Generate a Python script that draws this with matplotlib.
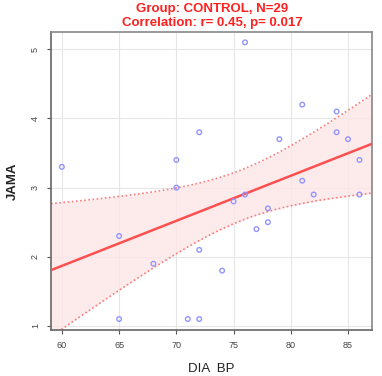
import numpy as np
import matplotlib
matplotlib.use('Agg')
import matplotlib.pyplot as plt

plt.rcParams['font.family'] = ['Liberation Sans', 'DejaVu Sans']

# DIA BP vs JAMA, control group
dia_bp = [60, 65, 65, 68, 70, 70, 71, 72, 72, 72, 74, 75, 76, 76, 77,
          78, 78, 79, 81, 81, 82, 84, 84, 85, 86, 86]
jama = [3.3, 2.3, 1.1, 1.9, 3.4, 3.0, 1.1, 1.1, 3.8, 2.1, 1.8, 2.8, 5.1, 2.9, 2.4,
        2.7, 2.5, 3.7, 4.2, 3.1, 2.9, 4.1, 3.8, 3.7, 3.4, 2.9]
title_lines = ['Group: CONTROL, N=29', 'Correlation: r= 0.45, p= 0.017']
x_ticks = [60, 65, 70, 75, 80, 85]
y_ticks = [1, 2, 3, 4, 5]

x = np.array(dia_bp, dtype=float)
y = np.array(jama, dtype=float)

# linear fit + 95% confidence band (like geom_smooth(method='lm'))
n = len(x)
slope, intercept = np.polyfit(x, y, 1)
xs = np.linspace(59.05, 87.1, 200)
fit = intercept + slope * xs
resid = y - (intercept + slope * x)
s = np.sqrt(np.sum(resid ** 2) / (n - 2))
se = s * np.sqrt(1.0 / n + (xs - x.mean()) ** 2 / np.sum((x - x.mean()) ** 2))
tval = 2.06
lo, hi = fit - tval * se, fit + tval * se

fig = plt.figure(figsize=(3.82, 3.76), dpi=100)
ax = fig.add_axes([0.1335, 0.122, 0.8405, 0.793])

ax.fill_between(xs, lo, hi, color='#fde6e6', alpha=0.8, linewidth=0, zorder=1)
ax.plot(xs, lo, color='#ff7a7a', linestyle=(0, (1, 1.5)), linewidth=1.2, zorder=2)
ax.plot(xs, hi, color='#ff7a7a', linestyle=(0, (1, 1.5)), linewidth=1.2, zorder=2)
ax.plot(xs, fit, color='#ff5050', linewidth=1.8, zorder=3)
ax.scatter(x, y, s=11, facecolors='none', edgecolors='#9494ff', linewidths=1.0, zorder=4)

ax.set_xlim(59.05, 87.1)
ax.set_ylim(0.94, 5.25)
ax.set_xticks(x_ticks)
ax.set_yticks(y_ticks)
ax.tick_params(axis='both', labelsize=6.5, colors='#555555', length=3, width=0.8,
               labelcolor='#444444', pad=5)
for lab in ax.get_yticklabels():
    lab.set_rotation(90)
    lab.set_va('center')
ax.grid(True, color='#e6e6e6', linewidth=0.8, zorder=0)
ax.set_axisbelow(True)
for sp in ax.spines.values():
    sp.set_color('#888888')
    sp.set_linewidth(1.2)
ax.spines['left'].set_color('#666666')
ax.spines['bottom'].set_color('#666666')

ax.set_xlabel('DIA  BP', fontsize=9.5, color='#222222', labelpad=9)
ax.set_ylabel('JAMA', fontsize=9.5, color='#222222', labelpad=9, fontweight='bold')

fig.text(0.555, 0.975, title_lines[0], ha='center', va='center', color='#ff2020',
         fontsize=9.5, fontweight='bold')
fig.text(0.555, 0.94, title_lines[1], ha='center', va='center', color='#ff2020',
         fontsize=9.5, fontweight='bold')

fig.savefig('out.png', dpi=100)
